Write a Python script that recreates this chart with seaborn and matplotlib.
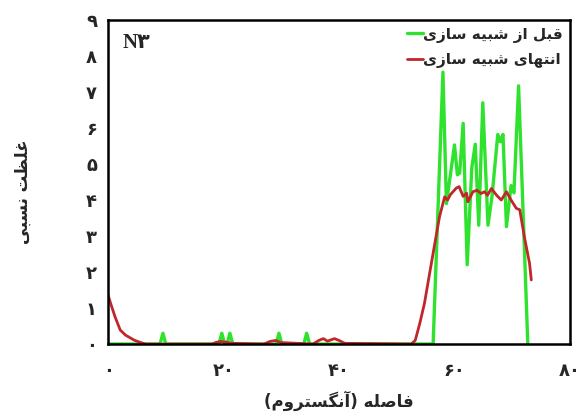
import seaborn as sns
import matplotlib.pyplot as plt
import numpy as np
import pandas as pd

# green curve: before simulation
x_before = [0, 9.0, 9.5, 10.0, 19.2, 19.7, 20.2, 20.6, 21.1, 21.6, 29.1, 29.6, 30.1,
            33.9, 34.4, 34.9, 56.3, 58.0, 58.6, 60.0, 60.5, 60.9, 61.5, 62.2, 63.0,
            63.6, 64.2, 64.9, 65.8, 66.5, 67.5, 67.95, 68.4, 69.0, 69.8, 70.3, 71.1, 72.7]
y_before = [0, 0, 0.3, 0, 0, 0.3, 0, 0, 0.3, 0, 0, 0.3, 0,
            0, 0.3, 0, 0, 7.55, 3.9, 5.53, 4.7, 4.75, 6.13, 2.2, 4.9,
            5.55, 3.3, 6.7, 3.3, 4.1, 5.82, 5.62, 5.82, 3.26, 4.4, 4.2, 7.17, 0]

# red curve: end of simulation
x_after = [0, 0.5, 1.2, 2.1, 3.0, 4.5, 5.5, 6.5, 18.0, 18.8, 19.5, 20.5, 21.5, 27.0, 28.0,
           29.0, 30.0, 35.5, 36.5, 37.3, 38.0, 39.2, 40.0, 41.0, 52.5, 53.2, 54.0, 54.8,
           55.7, 56.6, 57.4, 58.3, 58.8, 59.3, 60.3, 60.8, 61.5, 62.1, 62.3, 63.2, 63.9,
           64.6, 65.2, 65.7, 66.4, 67.3, 68.1, 69.0, 69.8, 70.7, 71.3, 72.1, 73.0, 73.3]
y_after = [1.36, 1.1, 0.76, 0.39, 0.25, 0.11, 0.05, 0, 0, 0.05, 0.07, 0.05, 0.02, 0, 0.07,
           0.1, 0.04, 0, 0.1, 0.15, 0.08, 0.15, 0.1, 0.02, 0, 0.1, 0.58, 1.13,
           1.97, 2.8, 3.53, 4.09, 4.0, 4.15, 4.33, 4.37, 4.1, 4.19, 3.95, 4.23, 4.27,
           4.18, 4.23, 4.13, 4.32, 4.13, 4.0, 4.23, 4.0, 3.77, 3.73, 2.98, 2.24, 1.78]

label_before = "قبل از شبیه سازی"
label_after = "انتهای شبیه سازی"
ylabel = "غلظت نسبی"
xlabel = "فاصله (آنگستروم)"
panel = "N۳"
x_ticks = [0, 20, 40, 60, 80]
x_ticklabels = ["۰", "۲۰", "۴۰", "۶۰", "۸۰"]
y_ticks = list(range(10))
y_ticklabels = ["۰", "۱", "۲", "۳", "۴", "۵", "۶", "۷", "۸", "۹"]

# contextual forms (isolated, final, initial, medial) - matplotlib has no arabic shaping
FORMS = {
    'ا': ('\uFE8D', '\uFE8E', None, None), 'آ': ('\uFE81', '\uFE82', None, None),
    'ب': ('\uFE8F', '\uFE90', '\uFE91', '\uFE92'), 'ت': ('\uFE95', '\uFE96', '\uFE97', '\uFE98'),
    'ر': ('\uFEAD', '\uFEAE', None, None), 'ز': ('\uFEAF', '\uFEB0', None, None),
    'س': ('\uFEB1', '\uFEB2', '\uFEB3', '\uFEB4'), 'ش': ('\uFEB5', '\uFEB6', '\uFEB7', '\uFEB8'),
    'ص': ('\uFEB9', '\uFEBA', '\uFEBB', '\uFEBC'), 'ظ': ('\uFEC5', '\uFEC6', '\uFEC7', '\uFEC8'),
    'غ': ('\uFECD', '\uFECE', '\uFECF', '\uFED0'), 'ف': ('\uFED1', '\uFED2', '\uFED3', '\uFED4'),
    'ق': ('\uFED5', '\uFED6', '\uFED7', '\uFED8'), 'ل': ('\uFEDD', '\uFEDE', '\uFEDF', '\uFEE0'),
    'م': ('\uFEE1', '\uFEE2', '\uFEE3', '\uFEE4'), 'ن': ('\uFEE5', '\uFEE6', '\uFEE7', '\uFEE8'),
    'ه': ('\uFEE9', '\uFEEA', '\uFEEB', '\uFEEC'), 'و': ('\uFEED', '\uFEEE', None, None),
    'ی': ('\uFBFC', '\uFBFD', '\uFBFE', '\uFBFF'), 'گ': ('\uFB92', '\uFB93', '\uFB94', '\uFB95'),
}


def fa(text):
    out = []
    for i, ch in enumerate(text):
        if ch not in FORMS:
            out.append(ch)
            continue
        prev = text[i - 1] if i > 0 else ''
        nxt = text[i + 1] if i + 1 < len(text) else ''
        jp = prev in FORMS and FORMS[prev][2] is not None
        jn = nxt in FORMS and FORMS[ch][2] is not None
        iso, fin, ini, med = FORMS[ch]
        out.append(med if jp and jn else fin if jp else ini if jn else iso)
    s = ''.join(out)[::-1]
    return s.replace('(', '\0').replace(')', '(').replace('\0', ')')


sns.set_style("white")
plt.rcParams['font.family'] = ['DejaVu Sans']

fig = plt.figure(figsize=(5.81, 4.16), dpi=100)
ax = fig.add_axes([0.186, 0.173, 0.795, 0.779])

df_b = pd.DataFrame({'x': x_before, 'y': y_before})
df_a = pd.DataFrame({'x': x_after, 'y': y_after})
sns.lineplot(data=df_b, x='x', y='y', color='#2ee22e', lw=2.4, ax=ax, label=fa(label_before))
sns.lineplot(data=df_a, x='x', y='y', color='#c0262a', lw=2.0, ax=ax, label=fa(label_after))

ax.set_xlim(0, 80)
ax.set_ylim(0, 9)
ax.set_xticks(x_ticks)
ax.set_xticklabels(x_ticklabels, fontsize=13, fontweight='bold')
ax.set_yticks(y_ticks)
ax.set_yticklabels(y_ticklabels, fontsize=13, fontweight='bold')
ax.tick_params(axis='x', length=0, pad=13)
ax.tick_params(axis='y', length=0, pad=8)

for s in ax.spines.values():
    s.set_color('black')
    s.set_linewidth(1.8)

ax.set_ylabel(fa(ylabel), fontsize=12, fontweight='bold')
ax.yaxis.set_label_coords(-0.165, 0.47)
ax.set_xlabel(fa(xlabel), fontsize=12, fontweight='bold')
ax.xaxis.set_label_coords(0.5, -0.145)

ax.text(0.032, 0.96, panel, transform=ax.transAxes, fontsize=15, fontweight='bold',
        va='top', ha='left', family=['Liberation Serif', 'DejaVu Sans'])

leg = ax.legend(loc='upper right', frameon=False, handlelength=1.1,
                handletextpad=0.0, borderaxespad=0.05, labelspacing=0.6,
                prop={'weight': 'bold', 'size': 11})

fig.savefig('out.png', dpi=100)
